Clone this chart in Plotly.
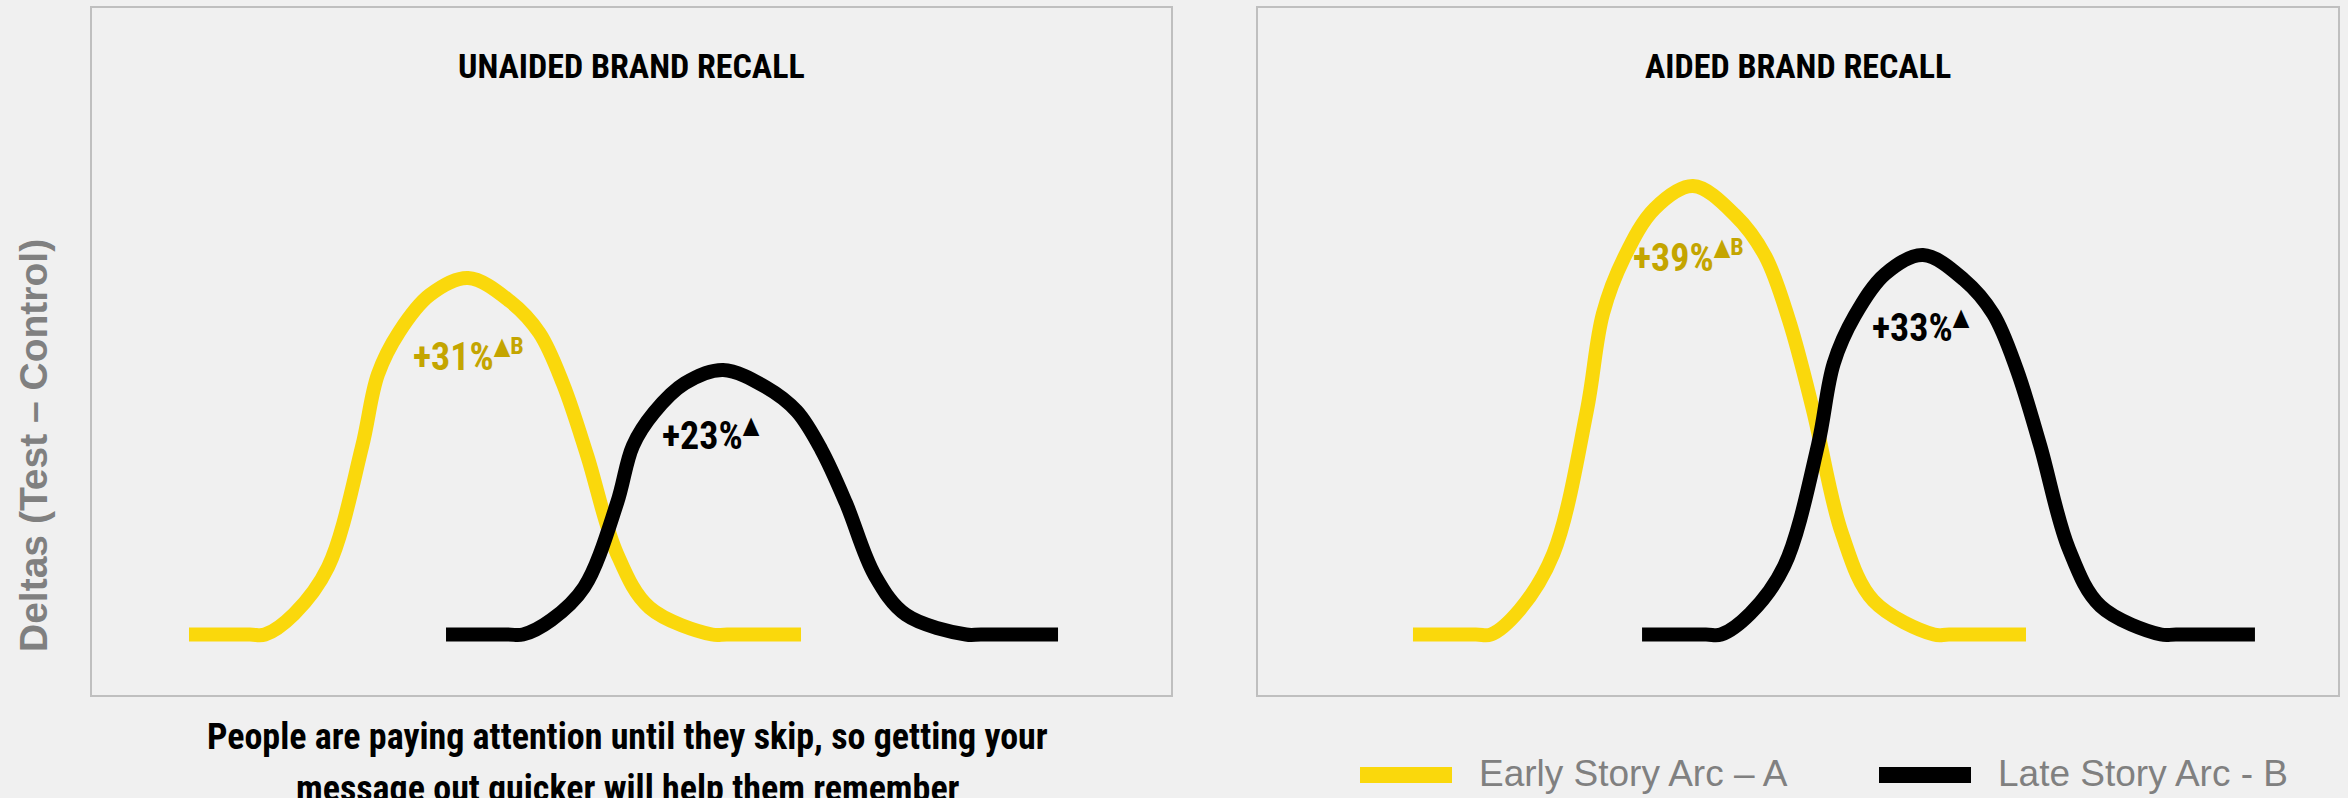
import plotly.graph_objects as go

# ---------------- data ----------------
# x: position across each panel (0-100), y: delta (Test - Control, %)
unaided_early_x = [8.99, 14.64, 16.03, 18.73, 21.88, 25.02, 26.50, 28.46, 31.31, 34.85, 38.71, 41.46, 43.67, 45.88, 48.66, 51.67, 57.46, 58.85, 65.71]
unaided_early_y = [0, 0, 0, 1.79, 5.87, 16.3, 22.62, 26.30, 29.53, 31, 29.0, 26.23, 21.76, 15.6, 7.02, 2.34, 0, 0, 0]
unaided_late_x = [32.81, 38.55, 39.94, 42.56, 45.61, 48.66, 50.13, 52.09, 54.94, 58.48, 62.47, 65.32, 67.60, 69.88, 72.55, 75.44, 81.0, 82.39, 89.53]
unaided_late_y = [0, 0, 0, 1.26, 4.11, 11.43, 16.41, 19.3, 21.84, 23, 21.5, 19.41, 16.06, 11.43, 5.14, 1.71, 0, 0, 0]

aided_early_x = [14.35, 20.18, 21.57, 24.24, 27.35, 30.46, 31.94, 33.90, 36.74, 40.28, 44.17, 46.94, 49.17, 51.39, 54.07, 56.99, 62.59, 63.98, 71.11]
aided_early_y = [0, 0, 0, 2.15, 7.03, 19.52, 27.9, 32.77, 37.05, 39, 36.47, 32.96, 27.31, 19.52, 8.78, 2.93, 0, 0, 0]
aided_late_x = [35.56, 41.48, 42.87, 45.56, 48.71, 51.85, 53.31, 55.25, 58.07, 61.57, 65.37, 68.07, 70.24, 72.41, 75.09, 78.01, 83.61, 85.0, 92.31]
aided_late_y = [0, 0, 0, 1.81, 5.93, 16.48, 23.58, 27.71, 31.35, 33, 30.85, 27.88, 23.09, 16.48, 7.42, 2.47, 0, 0, 0]

panel_titles = ["UNAIDED BRAND RECALL", "AIDED BRAND RECALL"]
series_names = ["Early Story Arc \u2013 A", "Late Story Arc - B"]
peak_labels = ["+31%", "+23%", "+39%", "+33%"]
peak_marks = ["\u25b2B", "\u25b2", "\u25b2B", "\u25b2"]
y_title = "Deltas (Test \u2013 Control)"
note_lines = ["People are paying attention until they skip, so getting your",
              "message out quicker will help them remember"]

# ---------------- styles ----------------
YELLOW = "#FAD80C"
GOLD = "#C4A500"
BLACK = "#000000"
GREY = "#808080"
BG = "#F0F0F0"
NARROW = "Liberation Sans Narrow, Roboto Condensed, DejaVu Sans Condensed, Liberation Sans, sans-serif"
W, H = 2348, 798


def px(x):
    return x / W


def py(y):
    return 1 - y / H


fig = go.Figure()
LW = 14
for xs, ys, col, nm, xa, ya in [
    (unaided_early_x, unaided_early_y, YELLOW, series_names[0], "x", "y"),
    (unaided_late_x, unaided_late_y, BLACK, series_names[1], "x", "y"),
    (aided_early_x, aided_early_y, YELLOW, series_names[0], "x2", "y2"),
    (aided_late_x, aided_late_y, BLACK, series_names[1], "x2", "y2"),
]:
    fig.add_trace(go.Scatter(x=xs, y=ys, mode="lines", name=nm, hoverinfo="skip",
                             line=dict(color=col, width=LW, shape="spline", smoothing=1),
                             xaxis=xa, yaxis=ya))

ax_common = dict(showgrid=False, zeroline=False, showticklabels=False, ticks="",
                 showline=True, mirror=True, linecolor="#BFBFBF", linewidth=2, fixedrange=True)
ydom = [1 - 695 / H, 1 - 8 / H]
fig.update_layout(
    width=W, height=H,
    margin=dict(l=0, r=0, t=0, b=0),
    paper_bgcolor=BG, plot_bgcolor=BG,
    showlegend=False,
    xaxis=dict(domain=[px(92), px(1171)], range=[0, 100], anchor="y", **ax_common),
    yaxis=dict(domain=ydom, range=[-5.26, 54.48], anchor="x", **ax_common),
    xaxis2=dict(domain=[px(1258), px(2338)], range=[0, 100], anchor="y2", **ax_common),
    yaxis2=dict(domain=ydom, range=[-5.26, 54.48], anchor="x2", **ax_common),
)

ann = []
# panel titles
for i, t in enumerate(panel_titles):
    cx = 631 if i == 0 else 1798
    ann.append(dict(text=t, x=px(cx), y=py(66), xref="paper", yref="paper", showarrow=False,
                    xanchor="center", yanchor="middle",
                    font=dict(family=NARROW, size=34, color=BLACK, weight="bold")))

# peak labels
label_pos = [("x", "y", 29.55, 24.3, GOLD), ("x", "y", 52.6, 17.35, BLACK),
             ("x2", "y2", 34.55, 32.85, GOLD), ("x2", "y2", 56.7, 26.75, BLACK)]
for (xr, yr, lx, ly, col), lab, mk in zip(label_pos, peak_labels, peak_marks):
    ann.append(dict(text=f"{lab}<sup><span style='font-size:24px'>{mk}</span></sup>",
                    x=lx, y=ly, xref=xr, yref=yr, showarrow=False,
                    xanchor="left", yanchor="middle",
                    font=dict(family=NARROW, size=38, color=col, weight="bold")))

# y-axis title
ann.append(dict(text=y_title, x=px(33), y=py(446), xref="paper", yref="paper", showarrow=False,
                textangle=-90, xanchor="center", yanchor="middle",
                font=dict(family="Liberation Sans, Arial, sans-serif", size=39, color=GREY, weight="bold")))

# note below left panel
for i, line in enumerate(note_lines):
    ann.append(dict(text=line, x=px(627.5), y=py(736.5 + 52 * i), xref="paper", yref="paper",
                    showarrow=False, xanchor="center", yanchor="middle",
                    font=dict(family=NARROW, size=36, color=BLACK, weight="bold")))

# manual legend
legend_items = [(series_names[0], YELLOW, 1360, 1477), (series_names[1], BLACK, 1879, 1996)]
shapes = []
for name, col, sx, tx in legend_items:
    shapes.append(dict(type="rect", xref="paper", yref="paper", x0=px(sx), x1=px(sx + 92),
                       y0=py(783), y1=py(767), fillcolor=col, line=dict(width=0)))
    ann.append(dict(text=name, x=px(tx), y=py(773), xref="paper", yref="paper", showarrow=False,
                    xanchor="left", yanchor="middle",
                    font=dict(family="Liberation Sans, Arial, sans-serif", size=37, color=GREY)))

fig.update_layout(annotations=ann, shapes=shapes)
fig.write_html("out.html", config={"displayModeBar": False},
               post_script="document.body.style.margin='0px';")
